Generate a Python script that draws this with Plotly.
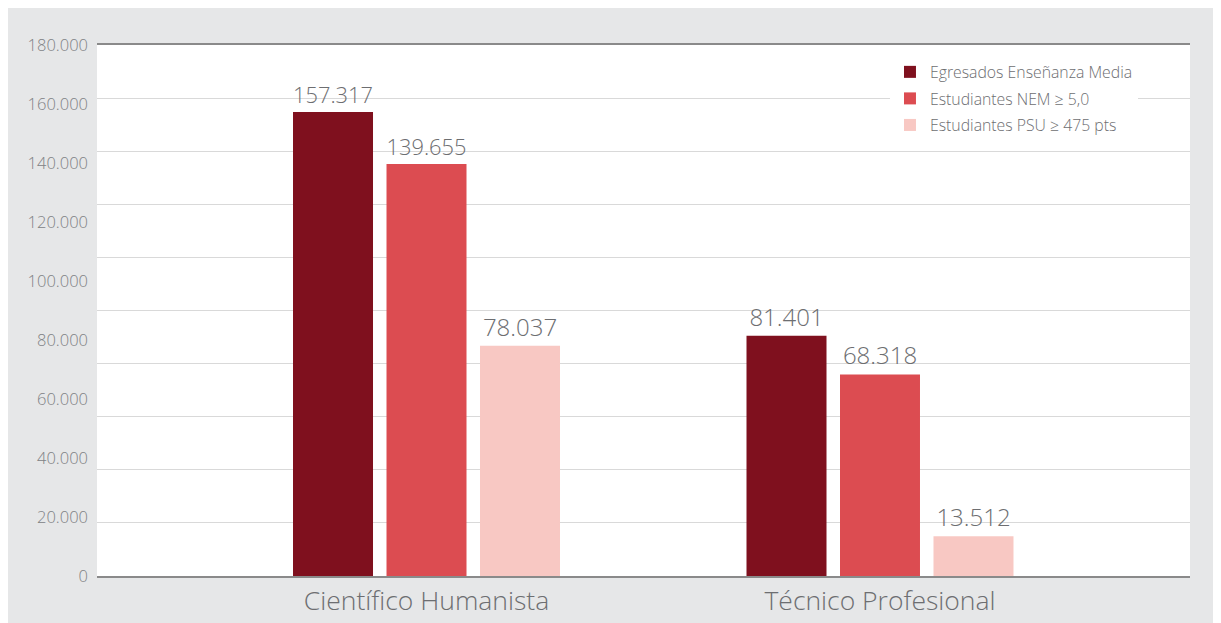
import plotly.graph_objects as go

categories = ["Científico Humanista", "Técnico Profesional"]
series_names = ["Egresados Enseñanza Media", "Estudiantes NEM ≥ 5,0", "Estudiantes PSU ≥ 475 pts"]
egresados = [157317, 81401]
nem = [139655, 68318]
psu = [78037, 13512]
y_ticks = [0, 20000, 40000, 60000, 80000, 100000, 120000, 140000, 160000, 180000]

colors = ["#7f101e", "#dc4c51", "#f8c8c3"]
FONT = "Open Sans"
TXT = "#6d6e71"

fig = go.Figure()
for i, (name, vals) in enumerate(zip(series_names, [egresados, nem, psu])):
    fig.add_trace(go.Bar(
        x=categories, y=vals, name=name, legendgroup=f"g{i}",
        marker=dict(color=colors[i], line=dict(width=0)),
        texttemplate="%{y:,}", textposition="outside",
        textfont=dict(family=FONT, size=24, color=TXT, weight=300),
        cliponaxis=False,
    ))

fig.update_layout(
    width=1221, height=623,
    margin=dict(l=89, r=39, t=37, b=55),
    paper_bgcolor="#e6e7e8",
    plot_bgcolor="white",
    separators=",.",
    barmode="group",
    bargap=0.3815,
    bargroupgap=0.1444,
    font=dict(family=FONT, color=TXT),
    showlegend=True,
    legend=dict(
        x=0.7255, y=0.981, xanchor="left", yanchor="top",
        bgcolor="white", borderwidth=0,
        font=dict(family=FONT, size=15.8, color=TXT, weight=300),
        tracegroupgap=3, itemwidth=30,
    ),
)

fig.update_xaxes(
    range=[-0.7266, 1.6836],
    showline=True, mirror=True, linecolor="#8a8a8a", linewidth=1.5,
    showgrid=False, ticks="",
    tickfont=dict(family=FONT, size=26.5, color=TXT, weight=300),
)
fig.update_yaxes(
    range=[0, 180000],
    tickvals=y_ticks,
    tickformat=",",
    showgrid=False, zeroline=False, showline=False,
    ticks="", ticklabelstandoff=8,
    tickfont=dict(family=FONT, size=16.5, color="#808285", weight=300),
    minor=dict(dtick=18000, tick0=0, showgrid=True, gridcolor="#d9d9d9", gridwidth=1.2, ticks=""),
)

fig.write_html("out.html")
